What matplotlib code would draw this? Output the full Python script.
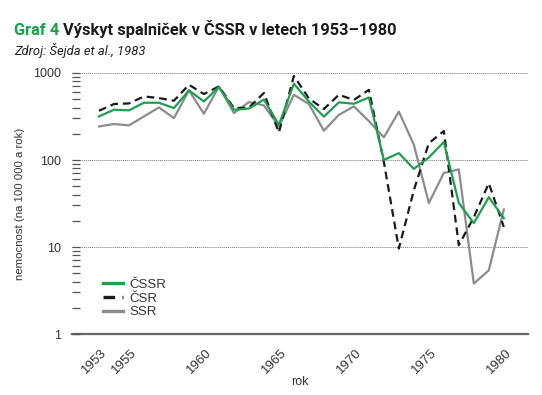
import matplotlib
matplotlib.use("Agg")
import matplotlib.pyplot as plt
import matplotlib.transforms as mtransforms
from matplotlib.ticker import LogLocator, FixedLocator, NullFormatter
import numpy as np

# data
years = list(range(1953, 1981))
cssr = [317, 378, 372, 455, 455, 395, 631, 471, 690, 378, 390, 495, 254, 753, 470, 315,
        460, 443, 524, 100, 120, 79, 107, 161, 32, 18.8, 37.4, 21.4]
csr = [368, 440, 447, 538, 515, 480, 733, 573, 701, 395, 400, 589, 207, 925, 510, 385,
       562, 490, 640, 95, 9.6, 45, 156, 215, 10.5, 22, 54, 17]
ssr = [243, 259, 250, 317, 402, 303, 631, 340, 700, 346, 463, 424, 243, 562, 440, 217,
       330, 413, 280, 182, 360, 150, 32, 71, 78, 3.8, 5.4, 27]
xtick_years = [1953, 1955, 1960, 1965, 1970, 1975, 1980]
ytick_vals = [1, 10, 100, 1000]

green = "#1d9f4e"
grey = "#8c8c8c"
txt = "#333333"

plt.rcParams['font.family'] = ['Liberation Sans', 'DejaVu Sans']

fig = plt.figure(figsize=(5.42, 3.95), dpi=100)
ax = fig.add_axes([0.1328, 0.1544, 0.841, 0.6608])

ax.plot(years, ssr, color=grey, lw=1.6, label="SSR", zorder=2)
ax.plot(years, csr, color="#1a1a1a", lw=1.6, ls=(0, (3.5, 2.2)), label="ČSR", zorder=3)
ax.plot(years, cssr, color=green, lw=1.6, label="ČSSR", zorder=4)

ax.set_yscale("log")
ax.set_ylim(1, 1000)
ax.set_xlim(1951.2, 1981.6)

# y ticks
ax.yaxis.set_major_locator(FixedLocator(ytick_vals))
ax.set_yticklabels([str(v) for v in ytick_vals])
ax.yaxis.set_minor_locator(LogLocator(base=10, subs=np.arange(2, 10)))
ax.yaxis.set_minor_formatter(NullFormatter())
ax.tick_params(axis="y", which="both", direction="in", length=6, width=0.9,
               color="#555555", labelcolor=txt, labelsize=9, pad=8)

# dotted grid at decades, solid line at 1
for v in ytick_vals[1:]:
    ax.axhline(v, color="#777777", lw=0.7, ls=(0, (1, 1)), zorder=1)
ax.axhline(1, color="#666666", lw=1.6, zorder=1, clip_on=False)

for s in ax.spines.values():
    s.set_visible(False)

# x ticks
ax.set_xticks(xtick_years)
ax.set_xticklabels([str(y) for y in xtick_years], rotation=45, ha="right",
                   rotation_mode="anchor", va="center")
ax.tick_params(axis="x", length=0, labelcolor=txt, labelsize=9.5, pad=12)
offset = mtransforms.ScaledTranslation(0.06, 0, fig.dpi_scale_trans)
for lab in ax.get_xticklabels():
    lab.set_transform(lab.get_transform() + offset)

ax.set_xlabel("rok", color=txt, fontsize=9, labelpad=0)
ax.set_ylabel("nemocnost (na 100 000 a rok)", color=txt, fontsize=8.2, labelpad=6)

handles, labels = ax.get_legend_handles_labels()
order = [2, 1, 0]
leg = ax.legend([handles[i] for i in order], [labels[i] for i in order],
                loc="lower left", bbox_to_anchor=(0.068, 0.06), frameon=False,
                fontsize=9.5, handlelength=1.55, handletextpad=0.45,
                labelspacing=0.12, borderaxespad=0, borderpad=0)
for t in leg.get_texts():
    t.set_color(txt)
for h in leg.get_lines():
    h.set_linewidth(2.4)

# title
t1 = fig.text(14 / 542, 1 - 35 / 395, "Graf 4", color=green, fontsize=11.8,
              fontweight="bold", family=["Roboto", "DejaVu Sans"])
fig.canvas.draw()
bb = t1.get_window_extent()
fig.text((bb.x1 + 4) / 542, 1 - 35 / 395, "Výskyt spalniček v ČSSR v letech 1953–1980",
         color="#1a1a1a", fontsize=11.8, fontweight="bold", family=["Roboto", "DejaVu Sans"])
fig.text(14 / 542, 1 - 55 / 395, "Zdroj: Šejda et al., 1983", color="#222222",
         fontsize=9.4, style="italic", family=["Roboto", "DejaVu Sans"])

fig.savefig("out.png", dpi=100)
